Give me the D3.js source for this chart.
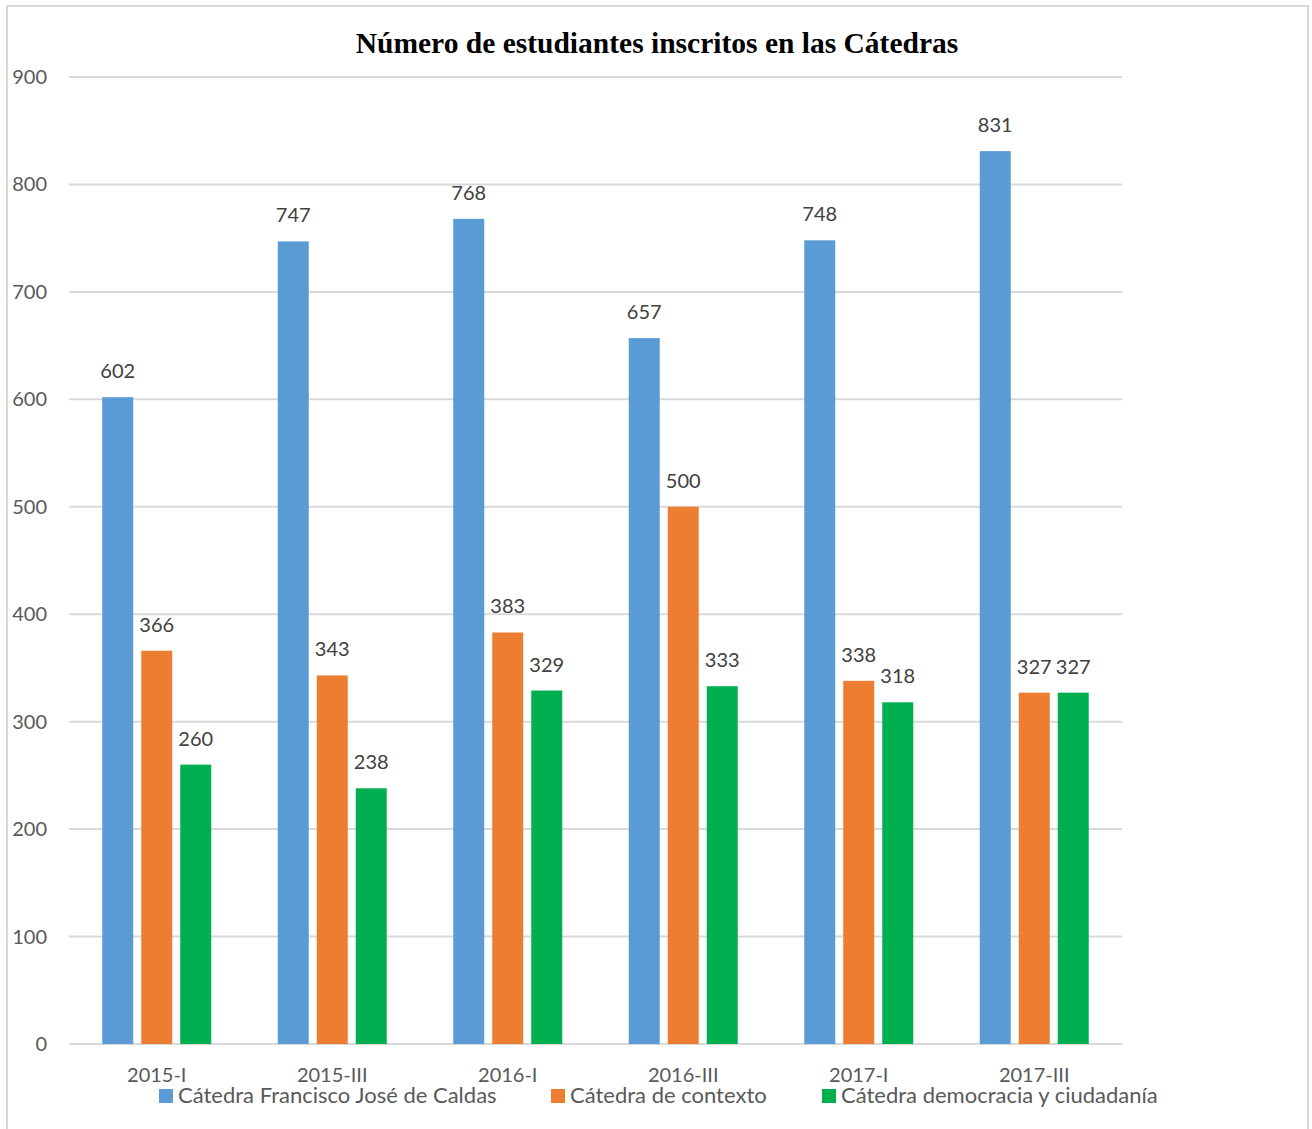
<!DOCTYPE html>
<html>
<head>
<meta charset="utf-8">
<script src="https://cdn.jsdelivr.net/npm/d3@7"></script>
<style>
  body { margin: 0; background: #fff; }
  svg { display: block; }
</style>
</head>
<body>
<svg id="chart"></svg>
<script>
const periods = ['2015-I', '2015-III', '2016-I', '2016-III', '2017-I', '2017-III']
const seriesNames = ['Cátedra Francisco José de Caldas', 'Cátedra de contexto', 'Cátedra democracia y ciudadanía']
const caldas    = [602, 747, 768, 657, 748, 831]
const contexto  = [366, 343, 383, 500, 338, 327]
const democracia = [260, 238, 329, 333, 318, 327]
const yTicks = [0, 100, 200, 300, 400, 500, 600, 700, 800, 900]
const colors = ['#5b9bd5', '#ed7d31', '#00b050']

const W = 1312, H = 1129
const plot = { left: 69, right: 1122, top: 77, bottom: 1044 }
const font = 'Lato, "Open Sans", sans-serif'

const svg = d3.select('#chart').attr('width', W).attr('height', H)

// outer frame
svg.append('path')
    .attr('d', `M7,${H} V6 H1308 V${H}`)
    .attr('fill', 'none')
    .attr('stroke', '#d9d9d9')
    .attr('stroke-width', 2)

svg.append('text')
    .attr('x', 657).attr('y', 53)
    .attr('text-anchor', 'middle')
    .attr('font-family', '"Liberation Serif", "Times New Roman", serif')
    .attr('font-weight', 'bold')
    .attr('font-size', 29.5)
    .attr('fill', '#000')
    .text('Número de estudiantes inscritos en las Cátedras')

const y = d3.scaleLinear().domain([0, 900]).range([plot.bottom, plot.top])
const x0 = d3.scaleBand().domain(periods).range([plot.left, plot.right])

// gridlines
svg.append('g').selectAll('line')
    .data(yTicks)
    .join('line')
    .attr('x1', plot.left).attr('x2', plot.right)
    .attr('y1', d => y(d)).attr('y2', d => y(d))
    .attr('stroke', '#d9d9d9')
    .attr('stroke-width', 2)

// y tick labels
svg.append('g').selectAll('text')
    .data(yTicks)
    .join('text')
    .attr('x', 47).attr('y', d => y(d) + 7)
    .attr('text-anchor', 'end')
    .attr('font-family', font)
    .attr('font-size', 20)
    .attr('fill', '#595959')
    .text(d => d)

const rows = periods.map((p, i) => ({ period: p, values: [caldas[i], contexto[i], democracia[i]] }))
const barW = 31, step = 39

const groups = svg.append('g').selectAll('g')
    .data(rows)
    .join('g')
    .attr('transform', d => `translate(${x0(d.period) + x0.bandwidth() / 2},0)`)

groups.selectAll('rect')
    .data(d => d.values)
    .join('rect')
    .attr('x', (d, i) => (i - 1) * step - barW / 2)
    .attr('y', d => y(d))
    .attr('width', barW)
    .attr('height', d => y(0) - y(d))
    .attr('fill', (d, i) => colors[i])

groups.selectAll('text')
    .data(d => d.values)
    .join('text')
    .attr('x', (d, i) => (i - 1) * step)
    .attr('y', d => y(d) - 19)
    .attr('text-anchor', 'middle')
    .attr('font-family', font)
    .attr('font-size', 20)
    .attr('fill', '#404040')
    .text(d => d)

// x labels
svg.append('g').selectAll('text')
    .data(periods)
    .join('text')
    .attr('x', d => x0(d) + x0.bandwidth() / 2)
    .attr('y', 1082)
    .attr('text-anchor', 'middle')
    .attr('font-family', font)
    .attr('font-size', 20)
    .attr('fill', '#595959')
    .text(d => d)

// legend
const legendX = [159, 551, 822]
const legend = svg.append('g').selectAll('g')
    .data(seriesNames)
    .join('g')
    .attr('transform', (d, i) => `translate(${legendX[i]},1089)`)
legend.append('rect')
    .attr('width', 14).attr('height', 14)
    .attr('fill', (d, i) => colors[i])
legend.append('text')
    .attr('x', 19).attr('y', 14)
    .attr('font-family', font)
    .attr('font-size', 22)
    .attr('fill', '#595959')
    .text(d => d)
</script>
</body>
</html>
